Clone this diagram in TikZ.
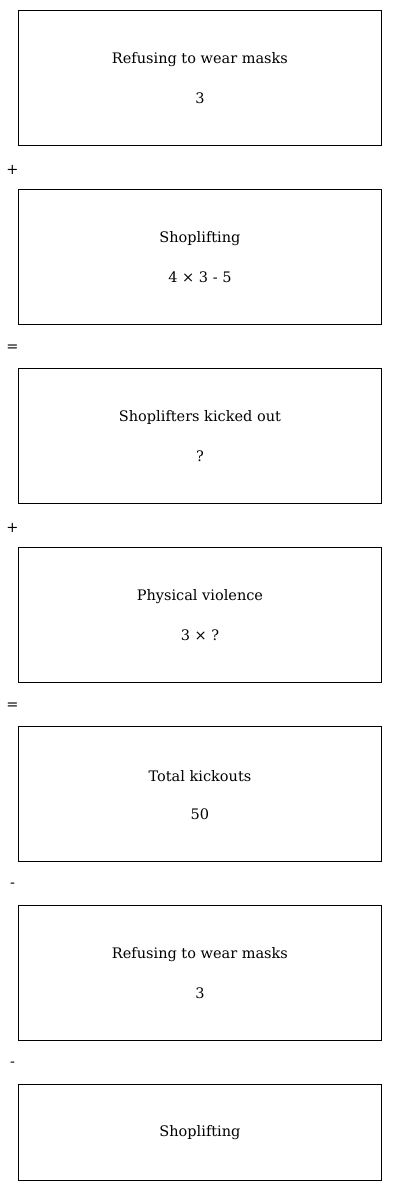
\documentclass[tikz,border=0pt]{standalone}
\usepackage{fontspec}
\setmainfont{DejaVu Serif}
\begin{document}
\begin{tikzpicture}[x=1pt,y=-1pt,
  box/.style={draw=black,line width=0.9pt,minimum width=363pt,inner sep=0pt,anchor=north west},
  lbl/.style={font=\fontsize{14.5}{17}\selectfont,inner sep=0pt},
  op/.style={font=\fontsize{14.5}{17}\selectfont,inner sep=0pt}]
\useasboundingbox (0,0) rectangle (400,1191);
\foreach \i/\t/\v/\y in {1/Refusing to wear masks/3/10, 2/Shoplifting/4 × 3 - 5/189, 3/Shoplifters kicked out/?/368, 4/Physical violence/3 × ?/547, 5/Total kickouts/50/726, 6/Refusing to wear masks/3/905}{
  \node[box,minimum height=135pt] (b\i) at (18,\y) {};
  \node[lbl] (t\i) at ([yshift=18pt]b\i.center) {\t};
  \node[lbl] (v\i) at ([yshift=-20.5pt]b\i.center) {\v};
}
\node[box,minimum height=96pt] (b7) at (18,1084) {};
\node[lbl] (t7) at ([yshift=-0.5pt]b7.center) {Shoplifting};
\node[op] (o1) at (12.5,169.5) {+};
\node[op] (o2) at (12.5,348.5) {=};
\node[op] (o3) at (12.5,527.5) {+};
\node[op] (o4) at (12.5,706.5) {=};
\node[op] (o5) at (12.5,885.5) {-};
\node[op] (o6) at (12.5,1064.5) {-};
\end{tikzpicture}
\end{document}
